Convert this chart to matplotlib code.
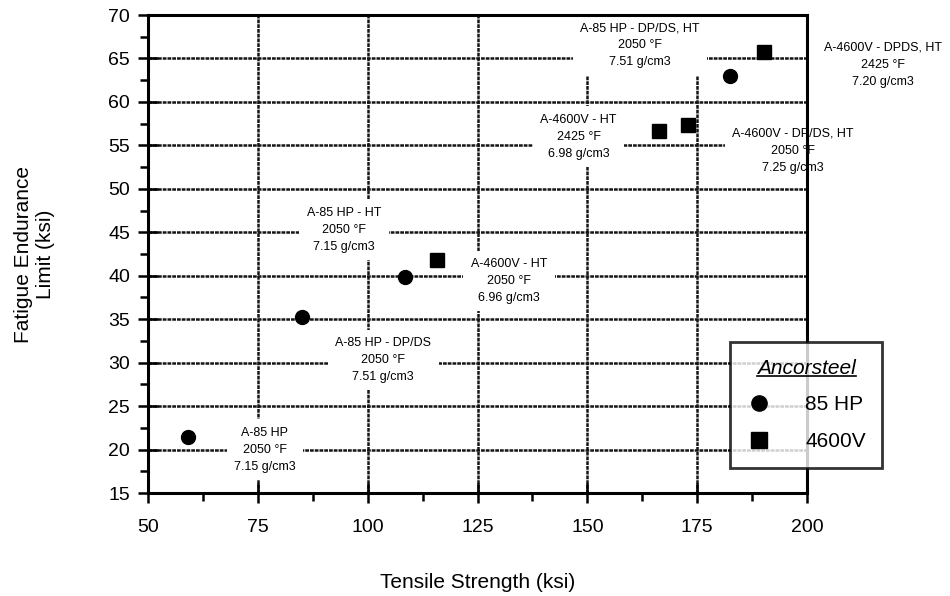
import numpy as np
import matplotlib
matplotlib.use("Agg")
import matplotlib.pyplot as plt
from matplotlib.lines import Line2D
from matplotlib.ticker import MultipleLocator

plt.rcParams["font.family"] = ["Liberation Sans", "DejaVu Sans"]

# Ancorsteel 85 HP (circles) and 4600V (squares)
hp_x = [59, 85, 108.5, 182.5]
hp_y = [21.4, 35.3, 39.9, 63.0]
v_x = [115.8, 166.2, 173.0, 190.3]
v_y = [41.8, 56.6, 57.3, 65.8]

# annotation text and its anchor (data coords)
notes = [
    ("A-85 HP\n2050 °F\n7.15 g/cm3", 76.6, 20.0),
    ("A-85 HP - DP/DS\n2050 °F\n7.51 g/cm3", 103.5, 30.3),
    ("A-85 HP - HT\n2050 °F\n7.15 g/cm3", 94.6, 45.3),
    ("A-4600V - HT\n2050 °F\n6.96 g/cm3", 132.2, 39.4),
    ("A-4600V - HT\n2425 °F\n6.98 g/cm3", 148.0, 56.0),
    ("A-4600V - DP/DS, HT\n2050 °F\n7.25 g/cm3", 196.8, 54.4),
    ("A-85 HP - DP/DS, HT\n2050 °F\n7.51 g/cm3", 162.0, 66.5),
    ("A-4600V - DPDS, HT\n2425 °F\n7.20 g/cm3", 217.3, 64.3),
]

fig = plt.figure(figsize=(9.5, 5.96), dpi=100)
ax = fig.add_axes([0.1558, 0.1728, 0.6937, 0.802])

ax.set_xlim(50, 200)
ax.set_ylim(15, 70)
ax.xaxis.set_major_locator(MultipleLocator(25))
ax.xaxis.set_minor_locator(MultipleLocator(12.5))
ax.yaxis.set_major_locator(MultipleLocator(5))
ax.yaxis.set_minor_locator(MultipleLocator(2.5))
ax.tick_params(which="major", direction="inout", length=14, width=1.8,
               labelsize=14)
ax.tick_params(axis="x", which="major", pad=12)
ax.tick_params(axis="y", which="major", pad=6)
ax.tick_params(which="minor", direction="out", length=6, width=1.8)
for s in ax.spines.values():
    s.set_linewidth(2.2)

ax.grid(which="major", color="#151515", lw=1.8, ls=(0, (1.5, 0.4)), zorder=1)
ax.set_axisbelow(True)

ax.plot(hp_x, hp_y, "o", color="black", ms=10, zorder=5, clip_on=False)
ax.plot(v_x, v_y, "s", color="black", ms=10, zorder=5, clip_on=False)

for txt, x, y in notes:
    ax.text(x, y, txt, ha="center", va="center", fontsize=9, linespacing=1.55,
            zorder=2, clip_on=False,
            bbox=dict(boxstyle="square,pad=0.6", fc="white", ec="none"))

ax.set_xlabel("Tensile Strength (ksi)", fontsize=15, labelpad=26)
ax.set_ylabel("Fatigue Endurance\nLimit (ksi)", fontsize=15, labelpad=38)

handles = [
    Line2D([], [], marker="o", ls="none", color="black", ms=11),
    Line2D([], [], marker="s", ls="none", color="black", ms=11),
]
leg = fig.legend(handles, ["85 HP", "4600V"], loc="upper left",
                 bbox_to_anchor=(730 / 950, 1 - 342 / 596), borderaxespad=0,
                 title="Ancorsteel", fontsize=15, title_fontsize=15,
                 frameon=True, fancybox=False, edgecolor="black",
                 handletextpad=1.6, borderpad=0.8, labelspacing=0.85,
                 handlelength=1.2)
leg.get_frame().set_linewidth(2.0)
leg.get_title().set_style("italic")
leg.set_zorder(10)

# underline the legend title
fig.canvas.draw()
bb = leg.get_title().get_window_extent().transformed(fig.transFigure.inverted())
fig.add_artist(Line2D([bb.x0, bb.x1], [bb.y0 + 0.002, bb.y0 + 0.002],
                      color="black", lw=1.2, transform=fig.transFigure, zorder=11))

fig.savefig("out.png", dpi=100)
